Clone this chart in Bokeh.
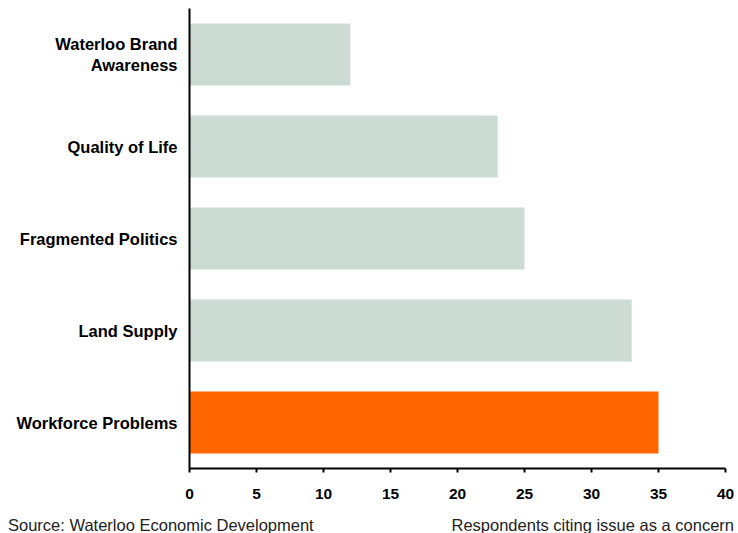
from bokeh.plotting import figure
from bokeh.models import FactorRange, Range1d, FixedTicker, Div
from bokeh.layouts import column
from bokeh.embed import file_html
from bokeh.resources import INLINE

categories = ["Workforce Problems", "Land Supply", "Fragmented Politics",
              "Quality of Life", "Waterloo Brand\nAwareness"]
values = [35, 33, 25, 23, 12]
colors = ["#ff6600", "#ccdbd3", "#ccdbd3", "#ccdbd3", "#ccdbd3"]
x_ticks = [0, 5, 10, 15, 20, 25, 30, 35, 40]
source_text = "Source: Waterloo Economic Development"
unit_text = "Respondents citing issue as a concern"

FONT = "Liberation Sans"

y_range = FactorRange(factors=categories, range_padding=0, factor_padding=0)
p = figure(width=736, height=502, output_backend="svg", toolbar_location=None,
           y_range=y_range, x_range=Range1d(0, 40),
           min_border_left=189, min_border_right=11, min_border_top=8, min_border_bottom=34)
p.outline_line_color = None
p.grid.grid_line_color = None
p.background_fill_color = "white"

p.hbar(y=categories, right=values, left=0, height=0.674, fill_color=colors, line_color=None)

p.xaxis.ticker = FixedTicker(ticks=x_ticks)
p.xaxis.axis_line_color = "black"
p.xaxis.axis_line_width = 2
p.xaxis.major_tick_line_color = "black"
p.xaxis.major_tick_line_width = 2
p.xaxis.major_tick_in = 0
p.xaxis.major_tick_out = 4
p.xaxis.minor_tick_line_color = None
p.xaxis.major_label_text_font = FONT
p.xaxis.major_label_text_font_style = "bold"
p.xaxis.major_label_text_font_size = "15.5px"
p.xaxis.major_label_text_color = "black"
p.xaxis.major_label_standoff = 16

p.yaxis.axis_line_color = "black"
p.yaxis.axis_line_width = 2
p.yaxis.major_tick_line_color = None
p.yaxis.minor_tick_line_color = None
p.yaxis.major_label_text_font = FONT
p.yaxis.major_label_text_font_style = "bold"
p.yaxis.major_label_text_font_size = "16.5px"
p.yaxis.major_label_text_color = "black"
p.yaxis.major_label_standoff = 6

footer = Div(
    text=(f'<div style="display:flex;justify-content:space-between;'
          f'font-family:\'{FONT}\';font-size:16.5px;line-height:18px;color:#222222;'
          f'padding-top:9px;margin-left:3px;width:726px;white-space:nowrap;">'
          f'<span>{source_text}</span><span>{unit_text}</span></div>'),
    width=733, height=31)

layout = column(p, footer, spacing=0)

open("out.html", "w").write(file_html(layout, INLINE))
